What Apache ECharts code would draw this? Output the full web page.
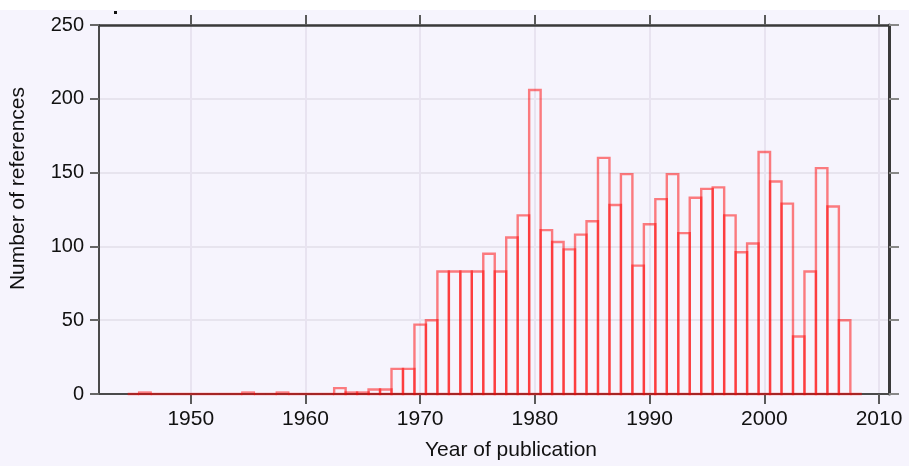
<!DOCTYPE html>
<html>
<head>
<meta charset="utf-8">
<script src="https://cdn.jsdelivr.net/npm/echarts@6/dist/echarts.min.js"></script>
<style>
html,body{margin:0;padding:0;background:#F6F4FD;}
#c{width:909px;height:466px;}
</style>
</head>
<body>
<div id="c"></div>
<script>
// Data
const years = [1945,1946,1947,1948,1949,1950,1951,1952,1953,1954,1955,1956,1957,1958,1959,1960,1961,1962,1963,1964,1965,1966,1967,1968,1969,
  1970,1971,1972,1973,1974,1975,1976,1977,1978,1979,1980,1981,1982,1983,1984,1985,1986,1987,1988,1989,
  1990,1991,1992,1993,1994,1995,1996,1997,1998,1999,2000,2001,2002,2003,2004,2005,2006,2007,2008];
const counts = [0,1,0,0,0,0,0,0,0,0,1,0,0,1,0,0,0,0,4,1,1,3,3,17,17,
  47,50,83,83,83,83,95,83,106,121,206,111,103,98,108,117,160,128,149,87,
  115,132,149,109,133,139,140,121,96,102,164,144,129,39,83,153,127,50,0];
const xTickValues = [1950,1960,1970,1980,1990,2000,2010];
const yTickLabels = [0,50,100,150,200,250];

const data = years.map((y,i)=>[y,counts[i]]);
const axisColor = '#4a4a4a';
const font = 'Liberation Sans';

const chart = echarts.init(document.getElementById('c'), null, {renderer:'canvas'});
chart.setOption({
  backgroundColor: '#F6F4FD',
  animation: false,
  grid: {left: 98, right: 20, top: 25, bottom: 68, containLabel: false},
  graphic: [
    {type:'rect', left:0, top:0, shape:{width:909, height:10}, style:{fill:'#ffffff'}, z:-1},
    {type:'rect', left:114, top:11, shape:{width:3, height:3}, style:{fill:'#111'}}
  ],
  xAxis: [{
    type: 'value', min: 1942, max: 2010.87,
    name: 'Year of publication', nameLocation: 'middle', nameGap: 46,
    nameTextStyle: {fontFamily: font, fontSize: 21, color: '#111', padding:[0,0,0,34]},
    axisLine: {show:true, onZero:false, lineStyle:{color: axisColor, width: 2}},
    axisTick: {show:true, length: 10, customValues: xTickValues, lineStyle:{color:'#5a5a5a', width:2}},
    axisLabel: {customValues: xTickValues, fontFamily: font, fontSize: 21, color:'#111', margin: 15,
      formatter: v => String(v)},
    splitLine: {show:true, lineStyle:{color:'#E8E3F0', width:2}}
  },{
    type: 'value', position: 'top', min: 1942, max: 2010.87,
    axisLine: {show:true, onZero:false, lineStyle:{color: '#3a3a3a', width: 2.5}},
    axisTick: {show:true, length: 10, customValues: xTickValues, lineStyle:{color:'#5a5a5a', width:2}},
    axisLabel: {show:false},
    splitLine: {show:false}
  }],
  yAxis: [{
    type: 'value', min: 0, max: 250, interval: 50,
    name: 'Number of references', nameLocation: 'middle', nameGap: 70,
    nameTextStyle: {fontFamily: font, fontSize: 21, color: '#111', padding:[0,0,0,42]},
    axisLine: {show:true, onZero:false, lineStyle:{color: axisColor, width: 2}},
    axisTick: {show:true, length: 9, lineStyle:{color:'#666', width:2}},
    axisLabel: {fontFamily: font, fontSize: 20, color:'#111', margin: 15,
      formatter: v => yTickLabels.includes(v) ? String(v) : ''},
    splitLine: {show:true, lineStyle:{color:'#E2DFE8', width:1.5}}
  },{
    type: 'value', position: 'right', min: 0, max: 250, interval: 50,
    axisLine: {show:true, onZero:false, lineStyle:{color: '#3a3a3a', width: 3}},
    axisTick: {show:true, length: 10, lineStyle:{color:'#888', width:2}},
    axisLabel: {show:false},
    splitLine: {show:false}
  }],
  series: [{
    type: 'custom',
    xAxisIndex: 0, yAxisIndex: 0,
    data: data,
    clip: false,
    renderItem: function(params, api){
      const x = api.value(0), v = api.value(1);
      const p0 = api.coord([x-0.5, v]);
      const p1 = api.coord([x+0.5, 0]);
      return {
        type: 'rect',
        shape: {x: p0[0], y: p0[1], width: p1[0]-p0[0], height: p1[1]-p0[1]},
        style: {fill: 'none', stroke: 'rgba(255,0,0,0.5)', lineWidth: 2.4}
      };
    }
  }]
});
</script>
</body>
</html>
